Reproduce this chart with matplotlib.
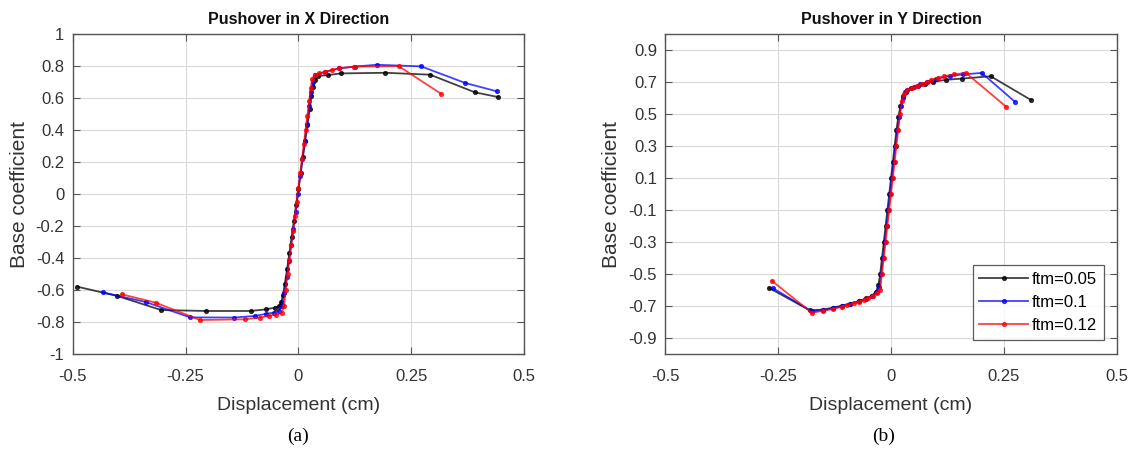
import numpy as np
import matplotlib.pyplot as plt

plt.rcParams['font.family'] = ['Liberation Sans', 'DejaVu Sans']

# ---- Pushover in X direction: (displacement cm, base coefficient)
x_d005 = [-0.490, -0.4025, -0.304, -0.205, -0.106, -0.072, -0.052, -0.042, -0.038, -0.034, -0.030,
          -0.025, -0.020, -0.015, -0.010, -0.005, 0.0, 0.005, 0.010, 0.015, 0.020, 0.025, 0.029,
          0.033, 0.037, 0.043, 0.066, 0.094, 0.193, 0.292, 0.391, 0.443]
x_c005 = [-0.579, -0.636, -0.725, -0.731, -0.731, -0.721, -0.710, -0.700, -0.675, -0.630, -0.560,
          -0.470, -0.370, -0.270, -0.170, -0.070, 0.030, 0.130, 0.230, 0.330, 0.430, 0.530, 0.610,
          0.670, 0.710, 0.7375, 0.744, 0.754, 0.758, 0.746, 0.636, 0.606]

x_d01 = [-0.4335, -0.338, -0.240, -0.142, -0.096, -0.072, -0.055, -0.044, -0.036, -0.031, -0.026,
         -0.021, -0.016, -0.011, -0.006, -0.001, 0.004, 0.009, 0.014, 0.019, 0.024, 0.028, 0.032,
         0.037, 0.060, 0.090, 0.125, 0.174, 0.272, 0.370, 0.440]
x_c01 = [-0.615, -0.675, -0.771, -0.772, -0.762, -0.749, -0.741, -0.730, -0.700, -0.620, -0.520,
         -0.420, -0.320, -0.220, -0.110, 0.0, 0.110, 0.220, 0.330, 0.440, 0.550, 0.640, 0.700,
         0.743, 0.765, 0.785, 0.797, 0.808, 0.798, 0.694, 0.642]

x_d012 = [-0.391, -0.316, -0.218, -0.118, -0.085, -0.065, -0.0495, -0.037, -0.032, -0.028, -0.024,
          -0.020, -0.016, -0.012, -0.008, -0.004, 0.0, 0.004, 0.008, 0.012, 0.016, 0.020, 0.024,
          0.027, 0.031, 0.036, 0.0458, 0.059, 0.074, 0.090, 0.123, 0.222, 0.316]
x_c012 = [-0.627, -0.679, -0.7875, -0.783, -0.772, -0.762, -0.753, -0.745, -0.700, -0.600, -0.500,
          -0.410, -0.320, -0.230, -0.140, -0.050, 0.040, 0.130, 0.220, 0.310, 0.400, 0.490, 0.580,
          0.660, 0.720, 0.745, 0.754, 0.764, 0.775, 0.786, 0.796, 0.800, 0.627]

# ---- Pushover in Y direction
y_d005 = [-0.2696, -0.1795, -0.150, -0.128, -0.109, -0.090, -0.070, -0.055, -0.042, -0.033, -0.028,
          -0.024, -0.020, -0.016, -0.012, -0.008, -0.004, 0.0, 0.004, 0.008, 0.012, 0.016, 0.021,
          0.027, 0.033, 0.045, 0.060, 0.075, 0.0925, 0.121, 0.158, 0.221, 0.310]
y_c005 = [-0.588, -0.727, -0.722, -0.710, -0.698, -0.685, -0.668, -0.652, -0.635, -0.610, -0.570,
          -0.500, -0.400, -0.300, -0.200, -0.100, 0.0, 0.100, 0.200, 0.300, 0.400, 0.480, 0.550,
          0.610, 0.640, 0.660, 0.675, 0.690, 0.701, 0.714, 0.722, 0.736, 0.588]

y_d01 = [-0.262, -0.1756, -0.150, -0.128, -0.109, -0.090, -0.070, -0.055, -0.042, -0.032, -0.026,
         -0.022, -0.018, -0.014, -0.010, -0.006, -0.002, 0.002, 0.006, 0.010, 0.014, 0.018, 0.022,
         0.026, 0.030, 0.035, 0.050, 0.065, 0.080, 0.100, 0.130, 0.160, 0.201, 0.274]
y_c01 = [-0.588, -0.734, -0.726, -0.714, -0.700, -0.688, -0.670, -0.655, -0.638, -0.615, -0.580,
         -0.500, -0.400, -0.300, -0.200, -0.100, 0.0, 0.100, 0.200, 0.300, 0.400, 0.480, 0.550,
         0.600, 0.638, 0.652, 0.670, 0.685, 0.700, 0.720, 0.738, 0.748, 0.757, 0.578]

y_d012 = [-0.264, -0.1756, -0.150, -0.128, -0.109, -0.097, -0.083, -0.070, -0.060, -0.050, -0.040,
          -0.030, -0.024, -0.020, -0.016, -0.012, -0.008, -0.004, 0.0, 0.004, 0.008, 0.012, 0.016,
          0.020, 0.024, 0.029, 0.035, 0.046, 0.057, 0.068, 0.079, 0.089, 0.103, 0.118, 0.139,
          0.166, 0.255]
y_c012 = [-0.5425, -0.742, -0.730, -0.718, -0.705, -0.695, -0.683, -0.673, -0.662, -0.650, -0.637,
          -0.618, -0.600, -0.500, -0.400, -0.300, -0.200, -0.100, 0.0, 0.100, 0.200, 0.300, 0.400,
          0.500, 0.580, 0.625, 0.648, 0.661, 0.675, 0.688, 0.700, 0.713, 0.726, 0.736, 0.748,
          0.757, 0.546]

labels = ['ftm=0.05', 'ftm=0.1', 'ftm=0.12']
colors = ['#000000', '#0000ff', '#ff0000']

x_ticks = [-0.5, -0.25, 0, 0.25, 0.5]
x_tick_labels = ['-0.5', '-0.25', '0', '0.25', '0.5']
yx_ticks = [-1, -0.8, -0.6, -0.4, -0.2, 0, 0.2, 0.4, 0.6, 0.8, 1]
yx_tick_labels = ['-1', '-0.8', '-0.6', '-0.4', '-0.2', '0', '0.2', '0.4', '0.6', '0.8', '1']
yy_ticks = [-0.9, -0.7, -0.5, -0.3, -0.1, 0.1, 0.3, 0.5, 0.7, 0.9]
yy_tick_labels = ['-0.9', '-0.7', '-0.5', '-0.3', '-0.1', '0.1', '0.3', '0.5', '0.7', '0.9']

fig = plt.figure(figsize=(11.36, 4.5), dpi=100)
ax1 = fig.add_axes([0.064, 0.2133, 0.3973, 0.711])
ax2 = fig.add_axes([0.5857, 0.2133, 0.3973, 0.711])

def style(ax, title, yticks, ylabels):
    ax.set_xlim(-0.5, 0.5)
    ax.set_ylim(-1, 1)
    ax.set_xticks(x_ticks)
    ax.set_xticklabels(x_tick_labels)
    ax.set_yticks(yticks)
    ax.set_yticklabels(ylabels)
    ax.grid(True, color='#d9d9d9', linewidth=0.8)
    ax.set_axisbelow(True)
    ax.tick_params(direction='in', length=5, width=0.8, colors='#555555',
                   labelcolor='#333333', labelsize=12, top=True, right=True)
    ax.tick_params(axis='x', pad=11)
    ax.tick_params(axis='y', pad=6)
    for s in ax.spines.values():
        s.set_color('#555555')
        s.set_linewidth(1.0)
    ax.set_title(title, fontsize=11.5, fontweight='bold', color='#111111', pad=7)
    ax.set_xlabel('Displacement (cm)', fontsize=14, color='#333333', labelpad=9)
    ax.set_ylabel('Base coefficient', fontsize=15, color='#333333', labelpad=5)

series_x = [(x_d005, x_c005), (x_d01, x_c01), (x_d012, x_c012)]
series_y = [(y_d005, y_c005), (y_d01, y_c01), (y_d012, y_c012)]

for (d, c), col, lab in zip(series_x, colors, labels):
    ax1.plot(d, c, color=col, marker='.', markersize=5.5, linewidth=1.3, alpha=0.75, label=lab)
for (d, c), col, lab in zip(series_y, colors, labels):
    ax2.plot(d, c, color=col, marker='.', markersize=5.5, linewidth=1.3, alpha=0.75, label=lab)

style(ax1, 'Pushover in X Direction', yx_ticks, yx_tick_labels)
style(ax2, 'Pushover in Y Direction', yy_ticks, yy_tick_labels)

leg = ax2.legend(loc='lower right', bbox_to_anchor=(0.99, 0.018), fontsize=12,
                 frameon=True, fancybox=False, handlelength=2.9, borderpad=0.4,
                 labelspacing=0.5, handletextpad=0.25)
leg.get_frame().set_edgecolor('#333333')
leg.get_frame().set_linewidth(0.9)

fig.text(0.2627, 0.03, '(a)', ha='center', va='center', fontsize=14, family='Liberation Serif')
fig.text(0.7777, 0.03, '(b)', ha='center', va='center', fontsize=14, family='Liberation Serif')

fig.savefig('out.png', dpi=100)
